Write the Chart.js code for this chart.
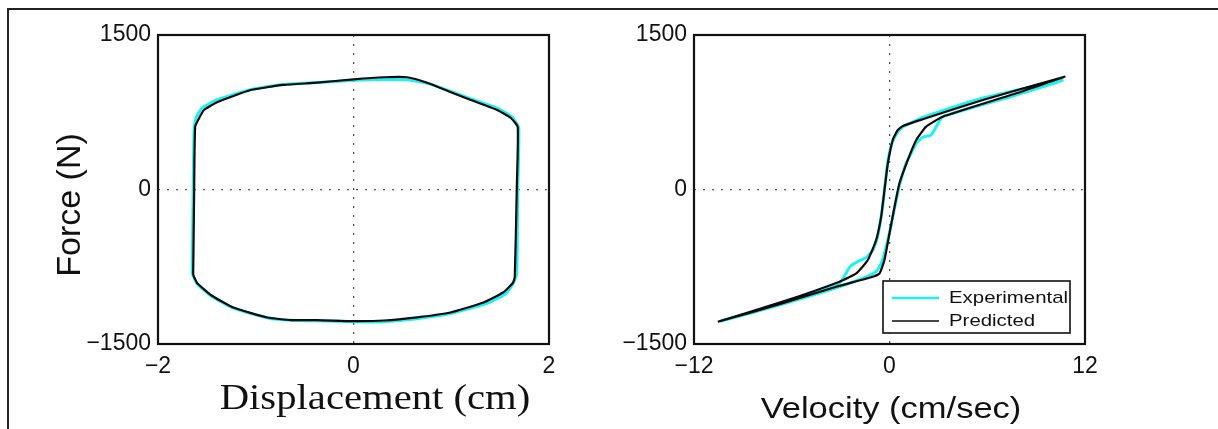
<!DOCTYPE html>
<html>
<head>
<meta charset="utf-8">
<script src="https://cdn.jsdelivr.net/npm/chart.js@4.4.0/dist/chart.umd.min.js"></script>
<style>
  html, body { margin: 0; padding: 0; background: #fff; overflow: hidden; }
  #frame { position: absolute; left: 7px; top: 8px; width: 1400px; height: 600px;
           border-left: 2px solid #222; border-top: 2px solid #222; }
  .box { position: absolute; top: 0; width: 609px; height: 429px; }
</style>
</head>
<body>
<div id="frame"></div>
<div class="box" style="left:0"><canvas id="dispChart"></canvas></div>
<div class="box" style="left:609px"><canvas id="velChart"></canvas></div>
<script>
// ---- data ----
const seriesNames = ["Experimental", "Predicted"];

const forceTicks = [-1500, 0, 1500];
const dispTicks = [-2, 0, 2];
const velTicks = [-12, 0, 12];

// force vs displacement loop (cm, N)
const dispExp = [-1.65, -1.64, -1.63, -1.61, -1.55, -1.40, -1.05, -0.72, -0.37, 0, 0.31, 0.55, 0.76, 0.99, 1.20, 1.47, 1.62, 1.69, 1.68, 1.67, 1.64, 1.56, 1.38, 0.99, 0.65, 0.31, 0, -0.37, -0.64, -0.88, -1.23, -1.46, -1.60, -1.65];
const forceDispExp = [-820, 0, 600, 700, 790, 870, 972, 1020, 1038, 1060, 1068, 1066, 1030, 955, 880, 790, 705, 600, 0, -810, -900, -1010, -1100, -1205, -1255, -1283, -1285, -1275, -1270, -1248, -1152, -1032, -915, -820];

const dispPred = [-1.64, -1.63, -1.62, -1.58, -1.53, -1.39, -1.05, -0.72, -0.37, 0, 0.31, 0.55, 0.76, 0.99, 1.20, 1.47, 1.61, 1.68, 1.67, 1.65, 1.63, 1.53, 1.33, 0.99, 0.65, 0.31, 0, -0.37, -0.64, -0.88, -1.23, -1.46, -1.60, -1.64];
const forceDispPred = [-830, 0, 607, 692, 772, 850, 966, 1015, 1037, 1070, 1090, 1090, 1034, 947, 869, 772, 694, 607, 0, -850, -908, -1000, -1097, -1194, -1241, -1272, -1278, -1268, -1268, -1243, -1146, -1024, -908, -830];

// force vs velocity loop (cm/sec, N)
const velExp = [-10.4, -6.55, -3.5, -3.0, -2.7, -2.4, -1.84, -1.43, -1.02, -0.75, -0.5, -0.3, -0.12, 0.15, 0.45, 0.82, 1.5, 2.04, 5.73, 10.6, 7.78, 3.27, 2.87, 2.56, 2.04, 1.64, 1.33, 1.02, 0.61, 0.31, 0, -0.31, -0.51, -0.82, -1.43, -3.27, -6.55, -10.4];
const forceVelExp = [-1280, -1110, -945, -900, -820, -745, -690, -662, -590, -470, -250, 0, 260, 450, 545, 610, 660, 700, 888, 1060, 918, 707, 610, 529, 507, 449, 352, 254, 40, -180, -420, -618, -716, -795, -848, -955, -1112, -1280];

const velPred = [-10.54, -6.55, -3.07, -2.04, -1.33, -0.82, -0.51, -0.31, -0.10, 0.20, 0.51, 0.82, 2.04, 5.73, 10.74, 7.78, 3.27, 2.25, 1.64, 1.12, 0.61, 0.31, 0, -0.31, -0.61, -1.03, -3.27, -6.55, -10.54];
const forceVelPred = [-1284, -1089, -895, -814, -685, -490, -264, -5, 254, 481, 578, 617, 682, 869, 1095, 934, 707, 610, 481, 286, 60, -167, -425, -685, -814, -847, -944, -1105, -1284];

// ---- helpers ----
const toPoints = (xs, ys) => xs.map((x, i) => ({ x, y: ys[i] }));
const fmt = v => (v < 0 ? "\u2212" + Math.abs(v) : String(v));
const tickFont = { family: "'Liberation Sans', Arial, sans-serif", size: 23 };
const zeroGrid = ctx => (ctx.tick && ctx.tick.value === 0 ? "#555" : "rgba(0,0,0,0)");

const makeDatasets = (xe, ye, xp, yp) => [
  { label: seriesNames[0], data: toPoints(xe, ye), borderColor: "#1ff0f0", borderWidth: 3, order: 1 },
  { label: seriesNames[1], data: toPoints(xp, yp), borderColor: "#0a0a0a", borderWidth: 2.2, order: 0 }
].map(d => ({ ...d, showLine: true, pointRadius: 0, tension: 0.15, fill: false, borderJoinStyle: "round" }));

const makeAxis = (ticks, size, isX) => ({
  type: "linear",
  min: ticks[0],
  max: ticks[ticks.length - 1],
  afterBuildTicks: s => { s.ticks = ticks.map(value => ({ value })); },
  ticks: { padding: isX ? 9 : 7, color: "#111", font: tickFont, callback: fmt, maxRotation: 0, autoSkip: false },
  grid: { color: zeroGrid, drawTicks: false, lineWidth: 1.3 },
  border: { display: false, dash: [2, 7] },
  afterFit: s => { if (isX) s.height = size; else s.width = size; }
});

const decor = {
  id: "decor",
  afterDatasetsDraw(chart) {
    const { ctx, chartArea: a } = chart;
    ctx.save();
    ctx.strokeStyle = "#111";
    ctx.lineWidth = 2.2;
    ctx.strokeRect(a.left, a.top, a.right - a.left, a.bottom - a.top);
    ctx.restore();
  },
  afterDraw(chart, args, opts) {
    const ctx = chart.ctx;
    (opts.titles || []).forEach(t => {
      ctx.save();
      ctx.translate(t.x, t.y);
      if (t.rotate) ctx.rotate(t.rotate);
      ctx.scale(t.scaleX || 1, 1);
      ctx.font = t.font;
      ctx.fillStyle = "#111";
      ctx.textAlign = "center";
      ctx.textBaseline = "middle";
      ctx.fillText(t.text, 0, 0);
      ctx.restore();
    });
    const lg = opts.legend;
    if (lg) {
      ctx.save();
      ctx.fillStyle = "#fff";
      ctx.fillRect(lg.left, lg.top, lg.width, lg.height);
      ctx.strokeStyle = "#111";
      ctx.lineWidth = 1.6;
      ctx.strokeRect(lg.left, lg.top, lg.width, lg.height);
      chart.data.datasets.forEach((ds, i) => {
        const y = lg.top + lg.firstRow + i * lg.rowGap;
        ctx.strokeStyle = ds.borderColor;
        ctx.lineWidth = i === 0 ? 2.5 : 1.5;
        ctx.beginPath();
        ctx.moveTo(lg.left + 9, y);
        ctx.lineTo(lg.left + 56, y);
        ctx.stroke();
        ctx.save();
        ctx.translate(lg.left + 66, y);
        ctx.scale(lg.scaleX, 1);
        ctx.font = lg.font;
        ctx.fillStyle = "#111";
        ctx.textAlign = "left";
        ctx.textBaseline = "middle";
        ctx.fillText(ds.label, 0, 0);
        ctx.restore();
      });
      ctx.restore();
    }
  }
};

const baseOptions = (padRight, yWidth, xTicks, decorOpts) => ({
  responsive: true,
  maintainAspectRatio: false,
  animation: false,
  layout: { padding: { top: 35, right: padRight, left: 0, bottom: 0 } },
  scales: { x: makeAxis(xTicks, 85, true), y: makeAxis(forceTicks, yWidth, false) },
  plugins: { legend: { display: false }, tooltip: { enabled: false }, decor: decorOpts }
});

new Chart(document.getElementById("dispChart"), {
  type: "scatter",
  data: { datasets: makeDatasets(dispExp, forceDispExp, dispPred, forceDispPred) },
  options: baseOptions(60, 158, dispTicks, {
    titles: [
      { text: "Force (N)", x: 71, y: 205, rotate: -Math.PI / 2, font: "34px 'Liberation Sans', Arial, sans-serif" },
      { text: "Displacement (cm)", x: 375, y: 400, scaleX: 1.13, font: "36px 'Liberation Serif', 'Times New Roman', serif" }
    ]
  }),
  plugins: [decor]
});

new Chart(document.getElementById("velChart"), {
  type: "scatter",
  data: { datasets: makeDatasets(velExp, forceVelExp, velPred, forceVelPred) },
  options: baseOptions(133, 85, velTicks, {
    titles: [
      { text: "Velocity (cm/sec)", x: 282, y: 410, scaleX: 1.15, font: "30px 'Liberation Sans', Arial, sans-serif" }
    ],
    legend: { left: 274, top: 281, width: 187, height: 52, firstRow: 17, rowGap: 23, scaleX: 1.2, font: "17px 'Liberation Sans', Arial, sans-serif" }
  }),
  plugins: [decor]
});
</script>
</body>
</html>
